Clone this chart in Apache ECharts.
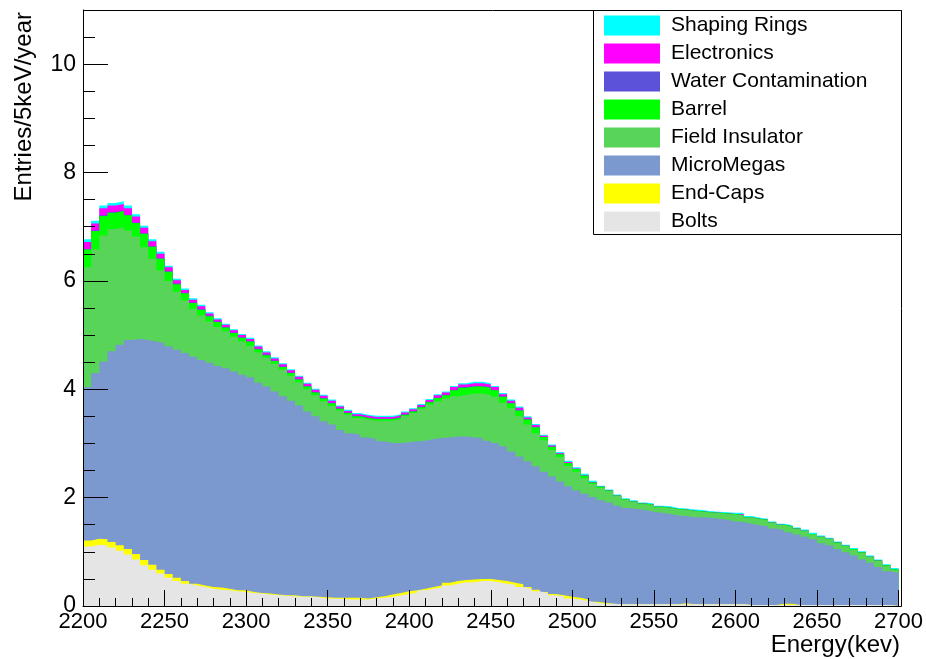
<!DOCTYPE html>
<html><head><meta charset="utf-8">
<script src="https://cdn.jsdelivr.net/npm/echarts@6/dist/echarts.min.js"></script>
<style>html,body{margin:0;padding:0;background:#fff}#c{width:926px;height:659px;background:#fff}</style>
</head><body><div id="c"></div>
<script>
// Energy binning (keV): 100 bins of 5 keV from 2200 to 2700
const energyMin = 2200, energyMax = 2700, binWidth = 5;
const binEdges = Array.from({length: (energyMax - energyMin) / binWidth + 1}, (_, i) => energyMin + i * binWidth);

const xTicks = [2200, 2250, 2300, 2350, 2400, 2450, 2500, 2550, 2600, 2650, 2700];
const yTicks = [0, 2, 4, 6, 8, 10];

// Entries/5keV/year per contribution (stack order bottom -> top)
const bolts = [1.10,1.13,1.12,1.08,1.02,0.95,0.86,0.75,0.67,0.60,
 0.52,0.46,0.41,0.38,0.35,0.32,0.30,0.29,0.27,0.26,
 0.24,0.23,0.21,0.20,0.19,0.18,0.17,0.17,0.16,0.14,
 0.14,0.13,0.12,0.12,0.12,0.14,0.15,0.17,0.20,0.22,
 0.25,0.29,0.32,0.34,0.38,0.41,0.44,0.44,0.46,0.46,
 0.44,0.41,0.39,0.35,0.32,0.27,0.24,0.20,0.18,0.14,
 0.12,0.09,0.06,0.04,0.04,0.03,0.03,0.03,0.03,0.03,
 0.03,0.03,0.03,0.03,0.03,0.03,0.03,0.03,0.03,0.03,
 0.03,0.02,0.02,0.02,0.02,0.02,0.02,0.02,0.02,0.02,
 0.02,0.02,0.02,0.02,0.02,0.02,0.02,0.02,0.02,0.02];

const endCaps = [0.11,0.11,0.11,0.10,0.10,0.10,0.10,0.10,0.09,0.07,
 0.07,0.06,0.05,0.03,0.03,0.03,0.04,0.03,0.02,0.03,
 0.02,0.01,0.02,0.01,0.01,0.02,0.01,0.01,0.01,0.02,
 0.01,0.02,0.03,0.03,0.02,0.02,0.03,0.04,0.04,0.05,
 0.04,0.03,0.03,0.04,0.05,0.05,0.04,0.05,0.04,0.04,
 0.04,0.05,0.04,0.05,0.03,0.03,0.02,0.02,0.02,0.03,
 0.03,0.03,0.02,0.02,0,0,0,0,0,0,
 0,0,0,0.02,0,0,0,0,0,0,
 0,0,0,0,0,0.02,0.02,0,0,0,
 0,0,0,0,0,0,0,0,0,0];

const microMegas = [2.83,3.06,3.28,3.52,3.70,3.86,3.97,4.06,4.12,4.18,
 4.20,4.21,4.21,4.19,4.16,4.14,4.09,4.07,4.04,3.98,
 3.96,3.88,3.82,3.75,3.67,3.59,3.52,3.41,3.33,3.25,
 3.20,3.10,3.04,3.01,2.97,2.92,2.86,2.80,2.77,2.75,
 2.75,2.73,2.73,2.72,2.68,2.67,2.65,2.62,2.60,2.55,
 2.53,2.49,2.42,2.36,2.32,2.28,2.22,2.17,2.10,2.04,
 1.98,1.95,1.93,1.89,1.87,1.82,1.78,1.76,1.74,1.71,
 1.69,1.67,1.64,1.61,1.61,1.61,1.60,1.58,1.56,1.53,
 1.52,1.50,1.47,1.45,1.41,1.36,1.32,1.30,1.26,1.21,
 1.14,1.10,1.03,0.97,0.91,0.84,0.78,0.70,0.62,0.59];

const fieldInsulator = [2.21,2.28,2.33,2.26,2.17,2.02,1.89,1.71,1.53,1.34,
 1.21,1.07,0.97,0.88,0.82,0.76,0.72,0.68,0.64,0.61,
 0.58,0.56,0.53,0.51,0.49,0.46,0.43,0.41,0.39,0.37,
 0.34,0.36,0.34,0.31,0.33,0.34,0.38,0.41,0.44,0.48,
 0.52,0.59,0.64,0.68,0.72,0.74,0.77,0.81,0.82,0.85,
 0.85,0.80,0.80,0.74,0.68,0.61,0.58,0.49,0.45,0.38,
 0.35,0.29,0.24,0.23,0.21,0.18,0.15,0.13,0.11,0.12,
 0.10,0.11,0.11,0.11,0.11,0.10,0.09,0.10,0.11,0.13,
 0.12,0.11,0.11,0.11,0.10,0.09,0.10,0.10,0.10,0.09,
 0.11,0.11,0.11,0.11,0.11,0.12,0.10,0.11,0.10,0.06];

const barrel = [0.33,0.34,0.36,0.30,0.30,0.28,0.25,0.25,0.22,0.22,
 0.17,0.14,0.13,0.11,0.11,0.10,0.09,0.07,0.07,0.07,
 0.08,0.06,0.05,0.05,0.05,0.05,0.05,0.05,0.05,0.05,
 0.05,0.03,0.03,0.03,0.03,0.03,0.03,0.03,0.03,0.03,
 0.03,0.03,0.04,0.06,0.06,0.11,0.13,0.13,0.13,0.13,
 0.12,0.11,0.09,0.11,0.09,0.11,0.06,0.06,0.05,0.05,
 0.05,0.05,0.03,0.02,0.01,0.01,0.01,0.01,0.01,0.01,
 0.01,0.01,0.01,0.01,0.01,0.01,0.01,0.01,0.01,0.01,
 0.01,0.01,0.01,0.01,0.01,0.01,0.01,0.01,0.01,0.01,
 0.01,0.01,0.01,0.01,0.01,0.01,0.01,0.01,0.01,0.01];

const waterContamination = [0.01,0.01,0.01,0.01,0.01,0.01,0.01,0.01,0.01,0.01,
 0.01,0.01,0.01,0.01,0.01,0.01,0.01,0.01,0.01,0.01,
 0.01,0.01,0.01,0.01,0.01,0.01,0.01,0.01,0.01,0.01,
 0.01,0.01,0.01,0.01,0.01,0.01,0.01,0.01,0.01,0.01,
 0.01,0.01,0.01,0.01,0.01,0.01,0.01,0.01,0.01,0.01,
 0.01,0.01,0.01,0.01,0.01,0.01,0,0,0,0,
 0,0,0,0,0,0,0,0,0,0,
 0,0,0,0,0,0,0,0,0,0,
 0,0,0,0,0,0,0,0,0,0,
 0,0,0,0,0,0,0,0,0,0];

const electronics = [0.13,0.13,0.13,0.12,0.12,0.12,0.11,0.10,0.09,0.08,
 0.07,0.06,0.05,0.05,0.05,0.04,0.04,0.04,0.04,0.04,
 0.04,0.04,0.04,0.04,0.04,0.04,0.04,0.04,0.04,0.04,
 0.04,0.03,0.03,0.03,0.03,0.03,0.03,0.03,0.03,0.03,
 0.03,0.03,0.03,0.04,0.04,0.05,0.05,0.05,0.05,0.05,
 0.05,0.04,0.04,0.04,0.03,0.03,0.02,0.02,0.02,0.02,
 0.01,0.01,0.01,0,0,0,0,0,0,0,
 0,0,0,0,0,0,0,0,0,0,
 0.02,0,0,0,0,0,0,0,0,0,
 0,0,0,0,0,0,0,0,0,0];

const shapingRings = [0.05,0.05,0.05,0.05,0.05,0.05,0.04,0.04,0.04,0.04,
 0.03,0.03,0.03,0.03,0.03,0.02,0.02,0.02,0.02,0.02,
 0.02,0.02,0.02,0.02,0.02,0.02,0.02,0.02,0.02,0.02,
 0.02,0.02,0.02,0.02,0.02,0.02,0.02,0.02,0.02,0.02,
 0.02,0.02,0.02,0.02,0.02,0.02,0.02,0.03,0.03,0.02,
 0.02,0.02,0.02,0.02,0.02,0.02,0.02,0.02,0.02,0.02,
 0.02,0.02,0.02,0.02,0.02,0.02,0.02,0.02,0.02,0.02,
 0.02,0.02,0.02,0.02,0.02,0.02,0.02,0.02,0.02,0.02,
 0.02,0.02,0.02,0.02,0.02,0.02,0.02,0.02,0.02,0.02,
 0.02,0.02,0.02,0.02,0.02,0.02,0.02,0.02,0.02,0.02];

const seriesNames = ['Bolts','End-Caps','MicroMegas','Field Insulator','Barrel','Water Contamination','Electronics','Shaping Rings'];
const seriesValues = [bolts, endCaps, microMegas, fieldInsulator, barrel, waterContamination, electronics, shapingRings];
const seriesColors = ['#e5e5e5','#ffff00','#7b98cf','#58d558','#00ff00','#5b52d9','#ff00ff','#00ffff'];

const FONT = '"Liberation Sans", Arial, Helvetica, sans-serif';
const TICK = '#000000';

// THStack-style drawing: each contribution is drawn as the running sum of itself and
// everything below it, tallest first, so adjacent layers share no anti-aliased seam.
const stackTops = [];
let running = seriesValues[0].map(() => 0);
seriesValues.forEach(vals => {
  running = running.map((r, i) => Math.round((r + vals[i]) * 1000) / 1000);
  stackTops.push(running);
});

const series = seriesNames.map((name, k) => {
  const tops = stackTops[k];
  // step 'end' on bin-edge categories: segment [edge_i, edge_i+1] drawn at bin i; last edge closes the last bin
  const data = binEdges.map((e, i) => tops[Math.min(i, tops.length - 1)]);
  return {
    name, type: 'line', step: 'end', symbol: 'none', showSymbol: false,
    xAxisIndex: 0, yAxisIndex: 0, data,
    lineStyle: {width: 0},
    itemStyle: {color: seriesColors[k]},
    areaStyle: {color: seriesColors[k], opacity: 1}
  };
}).reverse();

const chart = echarts.init(document.getElementById('c'));
chart.setOption({
  animation: false,
  grid: {left: 83, top: 10, right: 24, bottom: 53},
  xAxis: [{
    type: 'category', data: binEdges.map(String), boundaryGap: false, show: false
  }, {
    type: 'value', min: energyMin, max: energyMax, interval: 50, position: 'bottom', z: 50,
    axisLine: {show: true, onZero: false, lineStyle: {color: '#000', width: 1}},
    axisTick: {show: true, inside: true, length: 16, lineStyle: {color: TICK, width: 1}},
    minorTick: {show: true, splitNumber: 5, length: 8, lineStyle: {color: TICK, width: 1}},
    splitLine: {show: false}, minorSplitLine: {show: false},
    axisLabel: {show: true, margin: 5, fontSize: 22, color: '#000', fontFamily: FONT,
      formatter: v => xTicks.includes(v) ? String(v) : ''}
  }],
  yAxis: [{
    type: 'value', min: 0, max: 11, interval: 0.5, position: 'left', z: 50,
    axisLine: {show: true, onZero: false, lineStyle: {color: '#000', width: 1}},
    axisTick: {show: true, inside: true, length: 12, lineStyle: {color: TICK, width: 1}},
    splitLine: {show: false},
    axisLabel: {show: true, margin: 7, fontSize: 23, color: '#000', fontFamily: FONT,
      formatter: v => yTicks.includes(v) ? String(v) : ''}
  }, {
    type: 'value', min: 0, max: 11, interval: 2, position: 'left', z: 50,
    axisLine: {show: false},
    axisTick: {show: true, inside: true, length: 25, lineStyle: {color: TICK, width: 1}},
    splitLine: {show: false},
    axisLabel: {show: false}
  }],
  legend: {
    orient: 'vertical', left: 604, top: 15, icon: 'rect', itemWidth: 56, itemHeight: 20, itemGap: 7,
    padding: 0, selectedMode: false, z: 60,
    textStyle: {fontSize: 21, color: '#000', fontFamily: FONT, lineHeight: 20, padding: [0, 0, 0, 6]},
    data: seriesNames.slice().reverse()
  },
  graphic: [
    {type: 'rect', z: 45, shape: {x: 83.5, y: 10.5, width: 818, height: 596},
     style: {fill: null, stroke: '#000', lineWidth: 1}},
    {type: 'rect', z: 55, shape: {x: 593.5, y: 10.5, width: 308, height: 224},
     style: {fill: '#fff', stroke: '#000', lineWidth: 1}},
    {type: 'text', z: 56, x: 24, y: 12, rotation: Math.PI / 2,
     style: {text: 'Entries/5keV/year', fontSize: 24, fontFamily: FONT, fill: '#000',
             align: 'right', verticalAlign: 'middle', textAlign: 'right', textVerticalAlign: 'middle'}},
    {type: 'text', z: 56, x: 900, y: 645,
     style: {text: 'Energy(kev)', fontSize: 24, fontFamily: FONT, fill: '#000',
             align: 'right', verticalAlign: 'middle', textAlign: 'right', textVerticalAlign: 'middle'}}
  ],
  series
});
</script></body></html>
